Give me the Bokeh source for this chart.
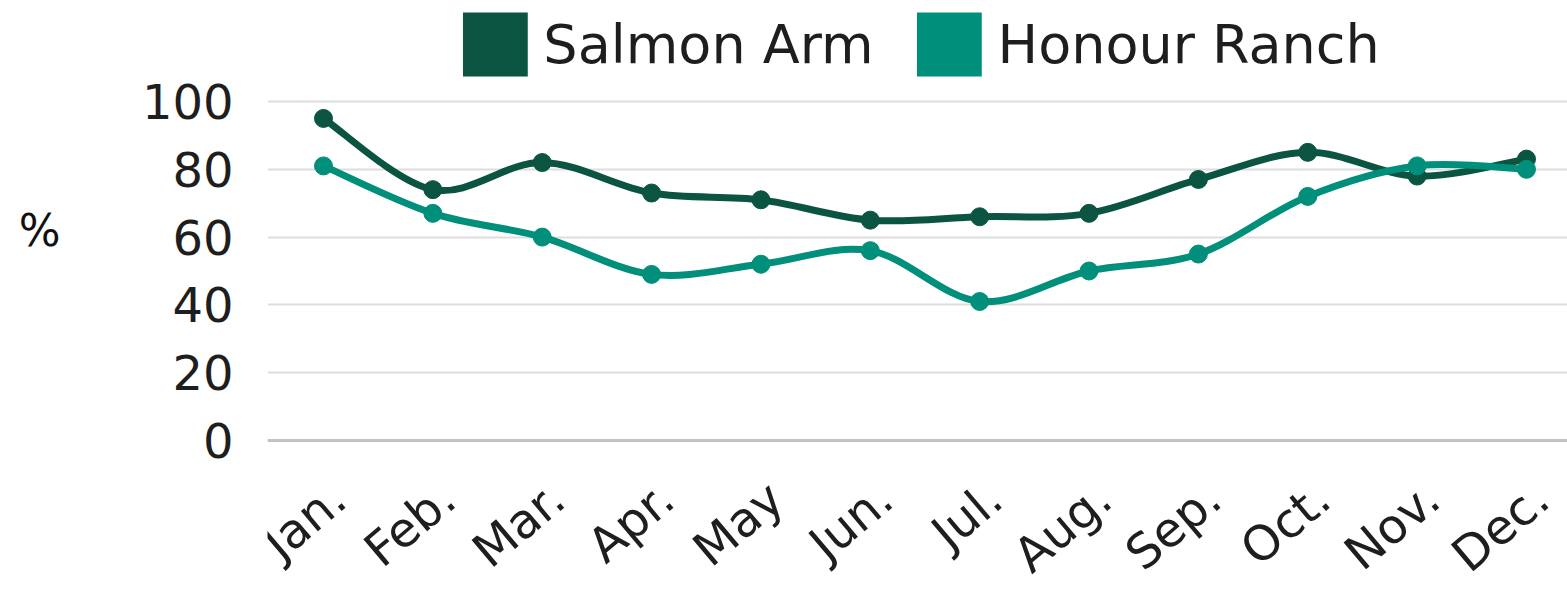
import math
from bokeh.plotting import figure
from bokeh.models import (Range1d, FixedTicker, Legend, LegendItem, Span, LinearAxis)
from bokeh.core.properties import value
from bokeh.embed import file_html
from bokeh.resources import INLINE

months = ["Jan.", "Feb.", "Mar.", "Apr.", "May", "Jun.", "Jul.", "Aug.", "Sep.", "Oct.", "Nov.", "Dec."]
salmon_arm = [95, 74, 82, 73, 71, 65, 66, 67, 77, 85, 78, 83]
honour_ranch = [81, 67, 60, 49, 52, 56, 41, 50, 55, 72, 81, 80]
y_ticks = [0, 20, 40, 60, 80, 100]
y_unit_label = "%"

C_SALMON = "#0b5442"
C_HONOUR = "#008f7a"
FONT = "DejaVu Sans"
TXT = "#1e1e1e"

xs = list(range(len(months)))

p = figure(width=1567, height=591, output_backend="svg", toolbar_location=None,
           x_axis_location=None,
           x_range=Range1d(-0.512, 11.375), y_range=Range1d(-44.54, 129.79),
           min_border_left=267, min_border_right=0, min_border_top=0, min_border_bottom=0)
p.outline_line_color = None
p.background_fill_color = "white"
p.border_fill_color = "white"

# y axis (tick values)
p.yaxis.ticker = FixedTicker(ticks=y_ticks)
p.yaxis.axis_line_color = None
p.yaxis.major_tick_line_color = None
p.yaxis.minor_tick_line_color = None
p.yaxis.major_tick_out = 0
p.yaxis.minor_tick_out = 0
p.yaxis.major_label_standoff = 34
p.yaxis.major_label_text_font = FONT
p.yaxis.major_label_text_font_size = "48px"
p.yaxis.major_label_text_color = TXT

# unit label "%" placed level with the upper part of the scale
unit_axis = LinearAxis(ticker=FixedTicker(ticks=[62]), major_label_overrides={62: y_unit_label},
                       axis_line_color=None, major_tick_line_color=None, minor_tick_line_color=None,
                       major_tick_out=0, minor_tick_out=0, major_label_standoff=78,
                       major_label_text_font=FONT, major_label_text_font_size="44px",
                       major_label_text_color="#111111")
p.add_layout(unit_axis, "left")

p.xgrid.grid_line_color = None
p.ygrid.grid_line_color = "#dedede"
p.ygrid.grid_line_width = 2

p.add_layout(Span(location=0, dimension="width", line_color="#c2c2c2", line_width=3))

# month labels, rotated, hanging below the zero line
p.text(x=xs, y=[0] * len(xs), text=months, angle=0.70, text_align="right",
       text_baseline="alphabetic", x_offset=15, y_offset=51,
       text_font=value(FONT), text_font_size="48px", text_color=TXT)

def bezier_segments(x, y):
    n = len(x)
    x0, y0, x1, y1, cx0, cy0, cx1, cy1 = [], [], [], [], [], [], [], []
    for i in range(n - 1):
        xm = x[i - 1] if i > 0 else x[i]
        ym = y[i - 1] if i > 0 else y[i]
        xp = x[i + 2] if i + 2 < n else x[i + 1]
        yp = y[i + 2] if i + 2 < n else y[i + 1]
        x0.append(x[i]); y0.append(y[i]); x1.append(x[i + 1]); y1.append(y[i + 1])
        cx0.append(x[i] + (x[i + 1] - xm) / 6); cy0.append(y[i] + (y[i + 1] - ym) / 6)
        cx1.append(x[i + 1] - (xp - x[i]) / 6); cy1.append(y[i + 1] - (yp - y[i]) / 6)
    return dict(x0=x0, y0=y0, x1=x1, y1=y1, cx0=cx0, cy0=cy0, cx1=cx1, cy1=cy1)

swatches = []
for vals, col in [(salmon_arm, C_SALMON), (honour_ranch, C_HONOUR)]:
    seg = bezier_segments(xs, vals)
    p.bezier(x0=seg["x0"], y0=seg["y0"], x1=seg["x1"], y1=seg["y1"],
             cx0=seg["cx0"], cy0=seg["cy0"], cx1=seg["cx1"], cy1=seg["cy1"],
             line_color=col, line_width=7, line_cap="round")
    p.scatter(xs, vals, size=18, color=col)
    # hidden renderer used only for the square legend swatch
    sw = p.quad(left=xs[:1], right=xs[:1], top=vals[:1], bottom=vals[:1],
                fill_color=col, line_color=None, visible=False)
    swatches.append(sw)

legend = Legend(items=[LegendItem(label="Salmon Arm", renderers=[swatches[0]]),
                       LegendItem(label="Honour Ranch", renderers=[swatches[1]])],
                orientation="horizontal", location="top_center",
                glyph_width=81, glyph_height=80, label_standoff=8, spacing=35,
                padding=0, margin=4, border_line_color=None, background_fill_alpha=0,
                inactive_fill_alpha=0, click_policy="none",
                label_text_font=FONT, label_text_font_size="54px", label_text_color=TXT)
p.add_layout(legend)

open("out.html", "w").write(file_html(p, INLINE))
